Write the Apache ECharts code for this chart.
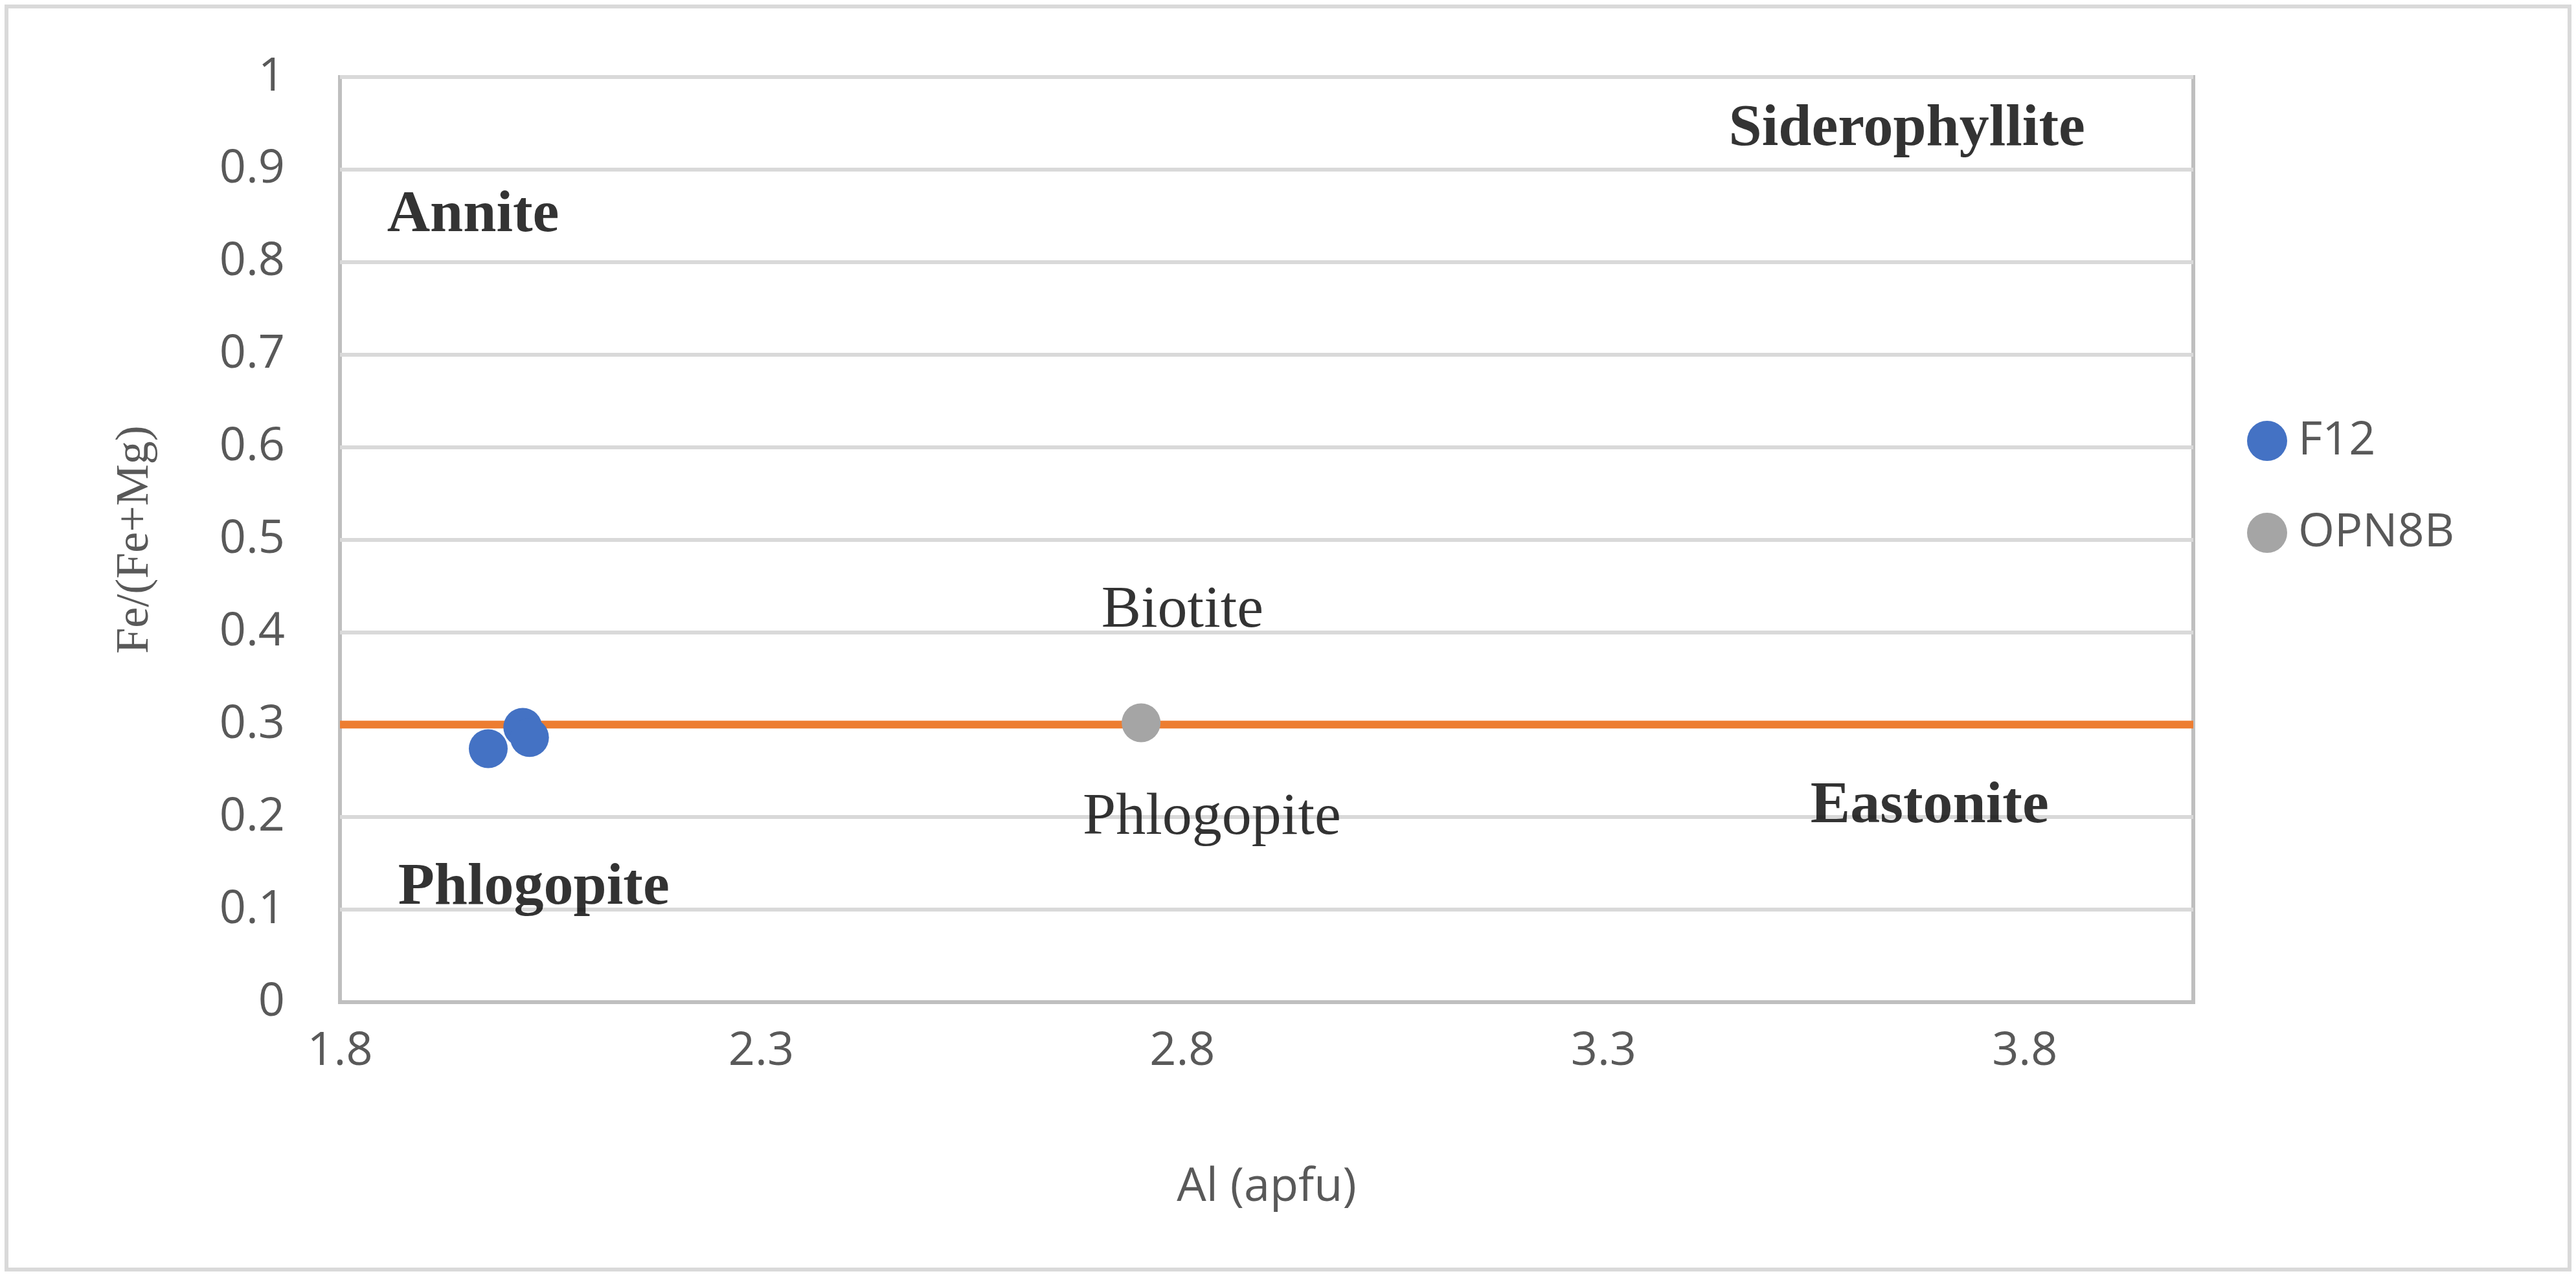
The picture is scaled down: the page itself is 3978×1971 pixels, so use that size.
<!DOCTYPE html>
<html>
<head>
<meta charset="utf-8">
<script src="https://cdn.jsdelivr.net/npm/echarts@6/dist/echarts.min.js"></script>
<style>html,body{margin:0;padding:0;background:#fff}#chart{width:3978px;height:1971px}</style>
</head>
<body>
<div id="chart"></div>
<script>
// sample points
var f12 = [[1.976, 0.274], [2.017, 0.297], [2.025, 0.286]];
var opn8b = [[2.751, 0.302]];
// boundary line Fe/(Fe+Mg) = 0.3
var boundary = [[1.8, 0.3], [4.0, 0.3]];
// field names: [x, y, name, bold]
var fields = [
    [1.958, 0.85, 'Annite', 1],
    [3.66, 0.943, 'Siderophyllite', 1],
    [2.8, 0.423, 'Biotite', 0],
    [2.835, 0.199, 'Phlogopite', 0],
    [3.687, 0.211, 'Eastonite', 1],
    [2.03, 0.123, 'Phlogopite', 1]
];

var myChart = echarts.init(document.getElementById('chart'));
myChart.setOption({
    animation: false,
    backgroundColor: '#fff',
    graphic: [{
        type: 'rect',
        shape: {x: 10, y: 10, width: 3958, height: 1951},
        style: {fill: 'none', stroke: '#d9d9d9', lineWidth: 6}
    }],
    grid: {
        left: 525, right: 3978 - 3387, top: 119, bottom: 1971 - 1548,
        show: true, borderColor: '#bfbfbf', borderWidth: 6
    },
    legend: {
        orient: 'vertical',
        left: 3465, top: 640,
        itemGap: 70, itemWidth: 62, itemHeight: 62,
        textStyle: {fontFamily: 'Open Sans', fontSize: 72, color: '#595959', padding: [0, 0, 0, 12]},
        data: [{name: 'F12', icon: 'circle'}, {name: 'OPN8B', icon: 'circle'}]
    },
    xAxis: {
        type: 'value', min: 1.8, max: 4.0, interval: 0.5,
        name: 'Al (apfu)', nameLocation: 'middle', nameGap: 250,
        nameTextStyle: {fontFamily: 'Open Sans', fontSize: 72, color: '#595959'},
        axisLine: {show: true, lineStyle: {color: '#bfbfbf', width: 6}},
        axisTick: {show: false},
        splitLine: {show: false},
        axisLabel: {showMaxLabel: false, margin: 40, fontFamily: 'Open Sans', fontSize: 72, color: '#595959',
            formatter: function (v) { return v.toFixed(1); }}
    },
    yAxis: {
        type: 'value', min: 0, max: 1, interval: 0.1,
        name: 'Fe/(Fe+Mg)', nameLocation: 'middle', nameGap: 280,
        nameTextStyle: {fontFamily: 'Liberation Serif', fontSize: 72, color: '#595959'},
        axisLine: {show: false},
        axisTick: {show: false},
        splitLine: {lineStyle: {color: '#d9d9d9', width: 6}},
        axisLabel: {margin: 85, fontFamily: 'Open Sans', fontSize: 72, color: '#595959',
            formatter: function (v) { return String(Math.round(v * 10) / 10); }}
    },
    series: [{
        type: 'line', data: boundary, symbol: 'none', silent: true,
        lineStyle: {color: '#ed7d31', width: 12}, z: 2
    }, {
        name: 'F12', type: 'scatter', data: f12, symbolSize: 60,
        itemStyle: {color: '#4472c4', opacity: 1}, z: 3
    }, {
        name: 'OPN8B', type: 'scatter', data: opn8b, symbolSize: 60,
        itemStyle: {color: '#a5a5a5', opacity: 1}, z: 3
    }, {
        type: 'scatter', symbolSize: 0, silent: true,
        data: fields.map(function (f) {
            return {value: [f[0], f[1]], label: {formatter: f[2], fontWeight: f[3] ? 'bold' : 'normal'}};
        }),
        label: {show: true, position: 'inside', fontFamily: 'Liberation Serif', fontSize: 92, color: '#000'}
    }]
});
</script>
</body>
</html>
